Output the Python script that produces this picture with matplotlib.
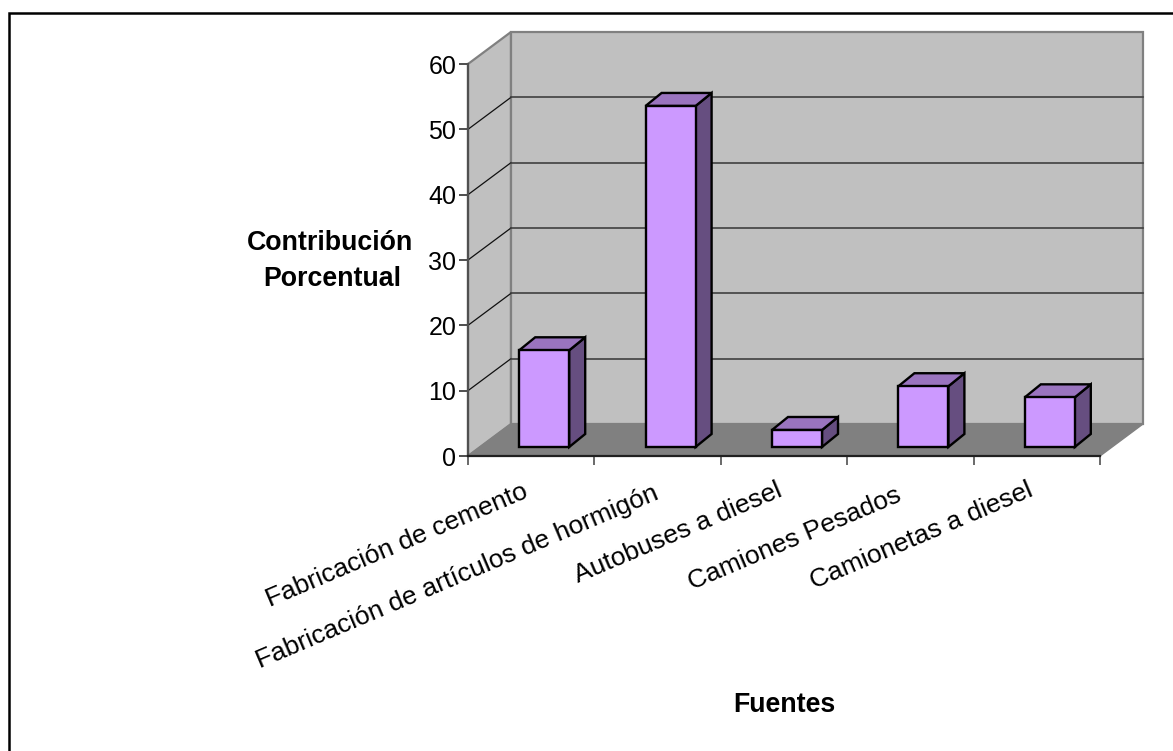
"""
3D-look column chart (Excel style) drawn on a plain 2D axes
"""

import matplotlib
matplotlib.use('Agg')
import matplotlib.pyplot as plt
from matplotlib.patches import Polygon

categories = ['Fabricación de cemento', 'Fabricación de artículos de hormigón',
              'Autobuses a diesel', 'Camiones Pesados', 'Camionetas a diesel']
values = [14.8, 52.2, 2.6, 9.3, 7.6]
y_ticks = [0, 10, 20, 30, 40, 50, 60]
y_title = ['Contribución', 'Porcentual']
x_title = 'Fuentes'

W, H = 1173, 751
# depth of the box and of the bars, in data units
WALL_DX, WALL_DY = 43 / 126.4, 32 / 6.53
BAR_DX, BAR_DY = 16 / 126.4, 13 / 6.53
BAR_SHIFT_X, BAR_SHIFT_Y = 13 / 126.4, 9 / 6.53
BAR_W = 50 / 126.4
# pixel offsets for each category label, the original spacing is not even
LABEL_DX = [-9, -5, -8, -15, -10]
LABEL_DY = [-23, -25, -22, -27, -22]

plt.rcParams['font.family'] = ['Liberation Sans', 'DejaVu Sans']

fig = plt.figure(figsize=(W / 100, H / 100), dpi=100)
ax = fig.add_axes([468 / W, 1 - 456 / H, 632 / W, 392 / H])
ax.set_xlim(0, len(categories))
ax.set_ylim(0, 60)
for s in ax.spines.values():
    s.set_visible(False)
ax.patch.set_visible(False)


def poly(pts, face, edge, lw, z):
    ax.add_patch(Polygon(pts, closed=True, facecolor=face, edgecolor=edge, linewidth=lw,
                         zorder=z, clip_on=False, joinstyle='miter'))


n = len(categories)
# side wall, back wall, floor
poly([(0, 0), (WALL_DX, WALL_DY), (WALL_DX, 60 + WALL_DY), (0, 60)], '#c0c0c0', '#808080', 1.6, 1)
poly([(WALL_DX, WALL_DY), (n + WALL_DX, WALL_DY), (n + WALL_DX, 60 + WALL_DY), (WALL_DX, 60 + WALL_DY)],
     '#c0c0c0', '#808080', 1.6, 1)
poly([(0, 0), (n, 0), (n + WALL_DX, WALL_DY), (WALL_DX, WALL_DY)], '#808080', '#808080', 1, 2)

# gridlines run along the side wall and the back wall
for t in y_ticks[1:-1]:
    ax.plot([0, WALL_DX], [t, t + WALL_DY], color='#101010', lw=0.9, zorder=3, clip_on=False)
    ax.plot([WALL_DX, n + WALL_DX], [t + WALL_DY, t + WALL_DY], color='#404040', lw=1.2, zorder=3, clip_on=False)

# bars
for i, v in enumerate(values):
    x0 = i + 0.5 - BAR_W / 2 + BAR_SHIFT_X
    x1 = x0 + BAR_W
    y0 = BAR_SHIFT_Y
    y1 = y0 + v
    poly([(x1, y0), (x1 + BAR_DX, y0 + BAR_DY), (x1 + BAR_DX, y1 + BAR_DY), (x1, y1)], '#664e80', 'black', 1.7, 4)
    poly([(x0, y1), (x1, y1), (x1 + BAR_DX, y1 + BAR_DY), (x0 + BAR_DX, y1 + BAR_DY)], '#9a74bf', 'black', 1.7, 4)
    poly([(x0, y0), (x1, y0), (x1, y1), (x0, y1)], '#cc99ff', 'black', 1.7, 5)

# front axis lines
ax.plot([0, 0], [0, 60], color='#505050', lw=1.6, zorder=6, clip_on=False)
ax.plot([0, n], [0, 0], color='#202020', lw=1.6, zorder=6, clip_on=False)

ax.set_yticks(y_ticks)
ax.set_xticks(range(n + 1))
ax.set_xticklabels([])
ax.tick_params(axis='y', length=6.5, width=1.2, color='#303030', labelsize=18, pad=2)
ax.tick_params(axis='x', length=6.5, width=1.2, color='#505050')

# category labels end near the middle of each slot
for i, name in enumerate(categories):
    ax.annotate(name, xy=(i + 0.5, 0), xycoords='data', xytext=(LABEL_DX[i], LABEL_DY[i]), textcoords='offset pixels',
                rotation=23, rotation_mode='anchor', ha='right', va='top', fontsize=19, color='black',
                annotation_clip=False)

fig.text(330 / W, 1 - 243 / H, y_title[0], ha='center', va='center', fontsize=19.3, fontweight='bold')
fig.text(332 / W, 1 - 279 / H, y_title[1], ha='center', va='center', fontsize=19.3, fontweight='bold')
fig.text(784 / W, 1 - 705 / H, x_title, ha='center', va='center', fontsize=19.3, fontweight='bold')

# outer chart border, only top and left reach inside the picture
fig.add_artist(plt.Line2D([8.5 / W, 8.5 / W, 1], [0, 1 - 12.5 / H, 1 - 12.5 / H], color='black', lw=1.8,
                          transform=fig.transFigure, solid_joinstyle='miter'))

fig.savefig('out.png', dpi=100)
